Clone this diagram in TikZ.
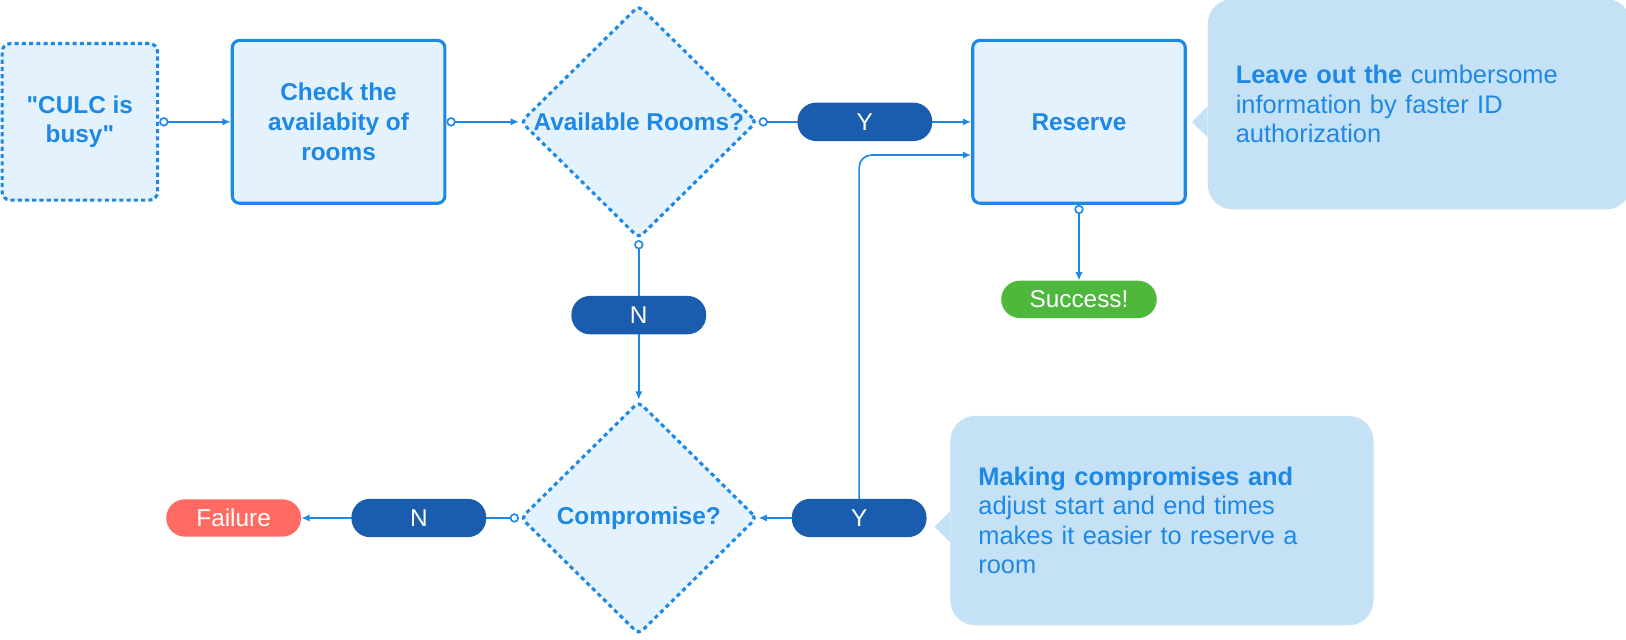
\documentclass[tikz,border=0pt]{standalone}
\usepackage{fontspec}
\setmainfont{Liberation Sans}
\usepackage{tikz}
\usetikzlibrary{shapes,arrows.meta,positioning}
\definecolor{lineblue}{HTML}{1E88E5}
\definecolor{boxfill}{HTML}{E3F2FD}
\definecolor{pillblue}{HTML}{1A5DAF}
\definecolor{notefill}{HTML}{C5E1F5}
\definecolor{okgreen}{HTML}{4DB83B}
\definecolor{failred}{HTML}{FF6B63}
\newcommand{\flowfont}{\fontsize{23.5pt}{28.5pt}\selectfont}
\newcommand{\notefont}{\fontsize{24.5pt}{28.5pt}\selectfont}
\tikzstyle{startbox} = [rectangle, rounded corners=8pt, draw=lineblue, dash pattern=on 4pt off 3pt, line width=3pt, fill=boxfill, text=lineblue, font=\flowfont\bfseries, align=center, minimum width=150pt, minimum height=151pt, inner sep=0pt]
\tikzstyle{task} = [rectangle, rounded corners=7pt, draw=lineblue, line width=3pt, fill=boxfill, text=lineblue, font=\flowfont\bfseries, align=center, minimum width=205pt, minimum height=157pt, inner sep=0pt]
\tikzstyle{decision} = [diamond, rounded corners=5pt, draw=lineblue, dash pattern=on 4pt off 3.5pt, line width=3pt, fill=boxfill, text=lineblue, font=\flowfont\bfseries, minimum width=228pt, minimum height=225pt, inner sep=0pt]
\tikzstyle{pill} = [rectangle, rounded corners=18pt, fill=pillblue, text=white, font=\flowfont, minimum width=130pt, minimum height=37pt, inner sep=0pt]
\tikzstyle{endok} = [pill, fill=okgreen, minimum width=150pt, minimum height=36pt]
\tikzstyle{endfail} = [pill, fill=failred, minimum height=36pt]
\tikzstyle{note} = [rectangle, rounded corners=24pt, fill=notefill, text=lineblue, font=\notefont, align=left, text width=354pt, inner xsep=27pt, inner ysep=0pt, minimum height=203pt]
\tikzstyle{flow} = [draw=lineblue, line width=1.6pt, {Circle[length=9pt, fill=white]}-{Latex[length=8pt, width=7pt]}]
\tikzstyle{backflow} = [draw=lineblue, line width=1.6pt, rounded corners=12pt, {Latex[length=8pt, width=7pt]}-{Latex[length=8pt, width=7pt]}]

\begin{document}
\begin{tikzpicture}

\useasboundingbox (0,0) rectangle (1568pt,-617pt);

% steps ==================================

\node[startbox] (busy) at (77pt,-117.5pt) {\textquotedbl CULC is\\busy\textquotedbl};
\node[task, right=69pt of busy] (check) {Check the\\availabity of\\rooms};
\node[decision, right=70pt of check] (avail) {\makebox[0pt]{Available Rooms?}};
\node[task, right=205pt of avail] (reserve) {Reserve};
\node[endok, below=73pt of reserve] (success) {Success!};

% second decision
\node[decision, below=154pt of avail] (comp) {\makebox[0pt]{Compromise?}};
\node[endfail, left=210pt of comp] (failure) {Failure};

%edges
\path[flow] (busy) -- (check);
\path[flow] (check) -- (avail);
\path[flow] (avail) -- node[pill] (y1) {Y} (reserve);
\path[flow] (avail) -- node[pill, pos=0.47] (n1) {N} (comp);
\path[flow] (comp) -- node[pill, pos=0.46] (n2) {N} (failure);
\path[backflow] (comp.east) -- ++(97pt,0) node[pill] (y2) {Y} |- ([yshift=-32pt]reserve.west);
\path[flow] (reserve) -- (success);

% notes
\node[note, right=20pt of reserve, yshift=17pt] (tip1) {\textbf{Leave out the} cumbersome\\information by faster ID\\authorization};
\node[note, right=22pt of y2, yshift=-2.5pt, minimum height=202pt] (tip2) {\textbf{Making compromises and}\\adjust start and end times\\makes it easier to reserve a\\room};
\fill[notefill] (tip1.west |- reserve.center) ++(0,15pt) -- ++(-15pt,-15pt) -- ++(15pt,-15pt) -- cycle;
\fill[notefill] ([yshift=-6pt]tip2.west) ++(0,15pt) -- ++(-15pt,-15pt) -- ++(15pt,-15pt) -- cycle;

\end{tikzpicture}
\end{document}
